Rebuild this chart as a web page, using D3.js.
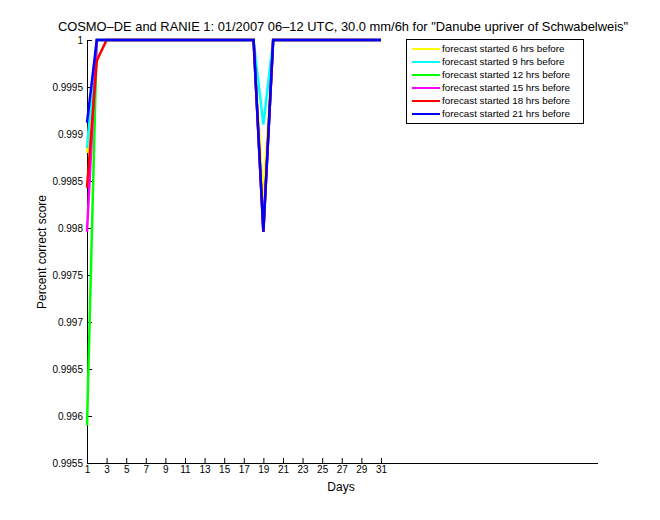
<!DOCTYPE html>
<html><head><meta charset="utf-8">
<script src="https://cdn.jsdelivr.net/npm/d3@7"></script>
<style>body{margin:0;background:#fff}svg{display:block}text{font-family:"Liberation Sans",Arial,sans-serif}</style>
</head><body>
<script>
const days = d3.range(1, 32);
const seriesNames = ["forecast started 6 hrs before","forecast started 9 hrs before","forecast started 12 hrs before","forecast started 15 hrs before","forecast started 18 hrs before","forecast started 21 hrs before"];
const seriesColors = ["#ffff00","#00ffff","#00ff00","#ff00ff","#ff0000","#0000ff"];
// values per day (1..31)
const s6h  = [0.9988,1,1,1,1,1,1,1,1,1,1,1,1,1,1,1,1,1,0.99832,1,1,1,1,1,1,1,1,1,1,1,1];
const s9h  = [0.99885,1,1,1,1,1,1,1,1,1,1,1,1,1,1,1,1,1,0.99910,1,1,1,1,1,1,1,1,1,1,1,1];
const s12h = [0.9959,1,1,1,1,1,1,1,1,1,1,1,1,1,1,1,1,1,0.99796,1,1,1,1,1,1,1,1,1,1,1,1];
const s15h = [0.99796,1,1,1,1,1,1,1,1,1,1,1,1,1,1,1,1,1,0.99796,1,1,1,1,1,1,1,1,1,1,1,1];
const s18h = [0.99843,0.99978,1,1,1,1,1,1,1,1,1,1,1,1,1,1,1,1,0.99796,1,1,1,1,1,1,1,1,1,1,1,1];
const s21h = [0.99912,1,1,1,1,1,1,1,1,1,1,1,1,1,1,1,1,1,0.99796,1,1,1,1,1,1,1,1,1,1,1,1];
const seriesValues = [s6h, s9h, s12h, s15h, s18h, s21h];
const xTicks = d3.range(1, 32, 2);
const yTicks = [0.9955,0.996,0.9965,0.997,0.9975,0.998,0.9985,0.999,0.9995,1];
const yTickLabels = ["0.9955","0.996","0.9965","0.997","0.9975","0.998","0.9985","0.999","0.9995","1"];

const W=660,H=520;
const svg=d3.select("body").append("svg").attr("width",W).attr("height",H);
const L=87,R=598,T=40,B=463;
const x=d3.scaleLinear().domain([1,53.15]).range([L,R]);
const y=d3.scaleLinear().domain([0.9955,1]).range([B,T]);

const xAxis=d3.axisBottom(x).tickValues(xTicks).tickSize(-5).tickPadding(3).tickFormat(d3.format("d"));
const gx=svg.append("g").attr("transform",`translate(0,${B})`).call(xAxis);
const yAxis=d3.axisLeft(y).tickValues(yTicks).tickSize(-5).tickPadding(4).tickFormat((d,i)=>yTickLabels[i]);
const gy=svg.append("g").attr("transform",`translate(${L},0)`).call(yAxis);
[gx,gy].forEach(g=>{g.select(".domain").attr("stroke","#000").attr("stroke-width",1);
 g.selectAll(".tick line").attr("stroke","#000");
 g.selectAll(".tick text").attr("font-size",10).attr("fill","#000").attr("font-family","Liberation Sans, Arial, sans-serif");});
gx.select(".domain").attr("d",`M${L},0.5H${R}`);
gy.select(".domain").attr("d",`M0.5,${B}V${T}`);

const line=d3.line().x((d,i)=>x(days[i])).y(d=>y(d));
seriesValues.forEach((vals,k)=>{
  svg.append("path").datum(vals).attr("d",line).attr("fill","none")
    .attr("stroke",seriesColors[k]).attr("stroke-width",2.5).attr("stroke-linejoin","miter");
});

svg.append("text").attr("x",343).attr("y",31).attr("text-anchor","middle").attr("font-size",12.9).text('COSMO–DE and RANIE 1: 01/2007 06–12 UTC, 30.0 mm/6h for "Danube upriver of Schwabelweis"');
svg.append("text").attr("x",341).attr("y",491).attr("text-anchor","middle").attr("font-size",12).text("Days");
svg.append("text").attr("transform","translate(46,252) rotate(-90)").attr("text-anchor","middle").attr("font-size",12).text("Percent correct score");

const lg=svg.append("g");
lg.append("rect").attr("x",406.5).attr("y",39.5).attr("width",177).attr("height",84).attr("fill","#fff").attr("stroke","#000");
seriesNames.forEach((n,k)=>{
  const yy=49+k*13;
  lg.append("line").attr("x1",412).attr("x2",440).attr("y1",yy).attr("y2",yy).attr("stroke",seriesColors[k]).attr("stroke-width",2);
  lg.append("text").attr("x",442).attr("y",yy+3.4).attr("font-size",9.8).text(n);
});
</script>
</body></html>
